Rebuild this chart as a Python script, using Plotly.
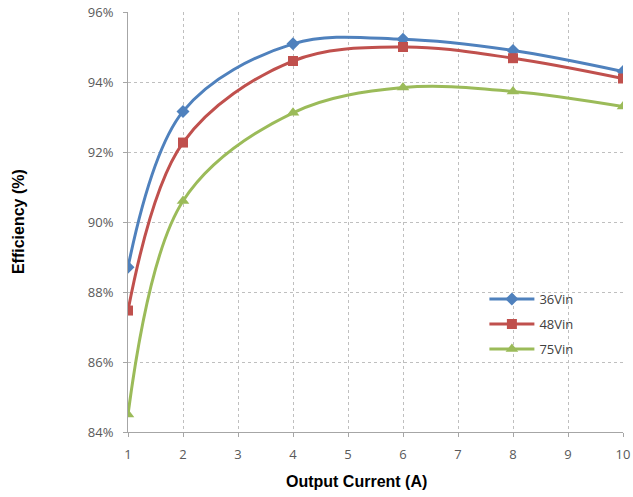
import plotly.graph_objects as go

current = [1, 2, 4, 6, 8, 10]
eff_36 = [88.71, 93.16, 95.09, 95.22, 94.90, 94.30]
eff_48 = [87.47, 92.27, 94.60, 95.00, 94.68, 94.10]
eff_75 = [84.50, 90.60, 93.12, 93.84, 93.73, 93.30]

series = [
    ("36Vin", eff_36, "#4F81BD", "diamond", 10),
    ("48Vin", eff_48, "#C0504D", "square", 10),
    ("75Vin", eff_75, "#9BBB59", "triangle-up", 11),
]

fig = go.Figure()
for name, vals, color, sym, sz in series:
    fig.add_trace(go.Scatter(
        x=current, y=vals, name=name, mode="lines+markers", legendgroup=name,
        line=dict(color=color, width=3, shape="spline", smoothing=1.0),
        marker=dict(symbol=sym, size=sz, color=color),
    ))

title_font = dict(family="Liberation Sans", size=16, color="#000000")
grid = dict(showgrid=True, gridcolor="#BFBFBF", griddash="dot", gridwidth=1)
fig.update_layout(
    width=633, height=497,
    margin=dict(l=128, r=10, t=12, b=65, autoexpand=False),
    paper_bgcolor="white", plot_bgcolor="white",
    font=dict(family="Open Sans", size=13, color="#595959"),
    showlegend=True,
    legend=dict(x=0.72, y=0.352, xanchor="left", yanchor="top",
                bgcolor="rgba(255,255,255,0)", font=dict(size=13, color="#404040"),
                itemwidth=45, tracegroupgap=5),
    xaxis=dict(range=[1, 10], dtick=1, tick0=1, showline=True, linecolor="#A6A6A6",
               ticks="outside", ticklen=4, tickcolor="#A6A6A6", zeroline=False,
               automargin=False, ticklabelstandoff=6, **grid),
    yaxis=dict(range=[84, 96], dtick=2, ticksuffix="%", showline=True, linecolor="#A6A6A6",
               ticks="outside", ticklen=4, tickcolor="#A6A6A6", zeroline=False,
               automargin=False, ticklabelstandoff=7, **grid),
    annotations=[
        dict(text="<b>Output Current (A)</b>", xref="paper", yref="paper",
             x=0.462, y=0, yshift=-49, xanchor="center", yanchor="middle",
             showarrow=False, font=title_font),
        dict(text="<b>Efficiency (%)</b>", xref="paper", yref="paper",
             x=-0.222, y=0.5, xanchor="center", yanchor="middle", textangle=-90,
             showarrow=False, font=title_font),
    ],
)

fig.write_html("out.html", config={"displayModeBar": False},
               post_script="document.body.style.margin='0';")
